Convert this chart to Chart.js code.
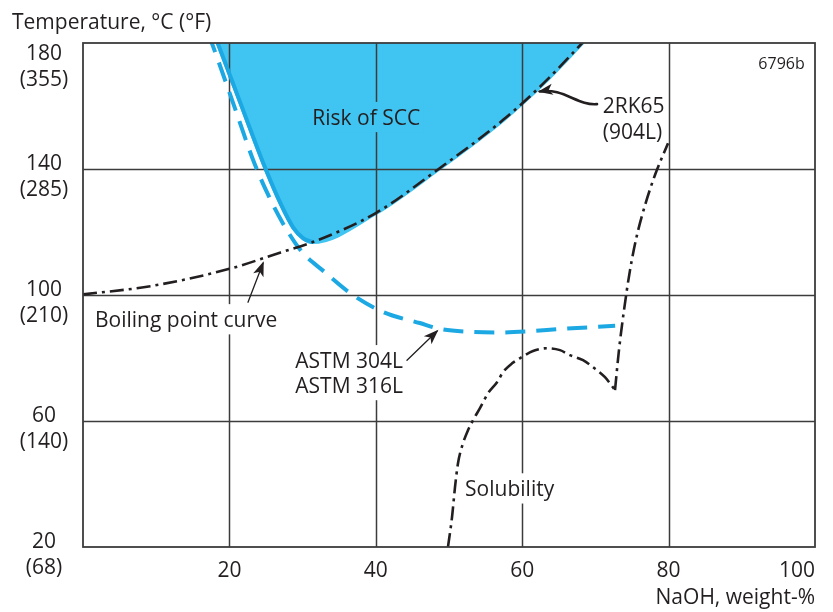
<!DOCTYPE html>
<html><head><meta charset="utf-8">
<script src="https://cdn.jsdelivr.net/npm/chart.js@4/dist/chart.umd.min.js"></script>
<style>html,body{margin:0;padding:0;background:#fff;} #c{display:block;}</style>
</head><body>
<canvas id="c" width="833" height="612"></canvas>
<script>
// ---- tick labels ----
const xTickValues = [20, 40, 60, 80, 100];
const yTickValues = [20, 60, 100, 140, 180];
const yTickLabelsC = ['20', '60', '100', '140', '180'];
const yTickLabelsF = ['(68)', '(140)', '(210)', '(285)', '(355)'];

// ---- series (NaOH wt-%, temperature °C) ----
const boilX = [0, 9.2, 20, 27, 31.4, 40, 48.4, 57.4, 63, 68.2, 70];
const boilY = [100.2, 102.8, 108.3, 113.5, 116.8, 126, 139.7, 155.6, 167.4, 180, 184.5];

const sccEdgeX = [17.9, 18.4, 21.5, 24.9, 27.1, 28.7, 30.1, 31.4];
const sccEdgeY = [183, 180, 161, 140.3, 128.5, 121.5, 118.0, 116.8];

const astmX = [17.1, 17.6, 20.5, 23.4, 25.5, 27.3, 29.0, 30.3, 32.7, 36.5, 41.0, 46.0, 48.8, 52.9, 57.0, 61.1, 65.2, 72.7];
const astmY = [183, 180, 161, 141.9, 130.8, 122.8, 116.5, 112.7, 107.9, 100.6, 94.6, 91.1, 89.2, 88.3, 88.1, 88.5, 89.2, 90.2];

const solArchX = [49.86, 50.41, 50.82, 51.23, 51.91, 52.60, 53.28, 54.23, 55.33, 56.56, 57.38, 58.61, 59.97, 61.48, 63.39, 65.16, 66.53, 68.31, 69.67, 71.31, 72.68];
const solArchY = [20, 29.4, 39.0, 46.6, 52.9, 57.1, 60.2, 64.1, 68.8, 72.3, 75.5, 78.3, 80.3, 82.2, 83.1, 82.5, 80.9, 79.3, 77.1, 73.9, 69.8];

const solRiseX = [72.68, 73.22, 73.91, 74.73, 75.68, 76.78, 78.14, 79.92];
const solRiseY = [69.8, 82.5, 95.2, 107.9, 119.0, 128.5, 138.1, 148.2];

// ---- styles ----
const FILL = '#40C4F1';
const BLUE = '#1CA8E3';
const INK = '#231f20';
const GRID = '#3c3c3c';
const FONT = '"Open Sans", "Noto Sans", sans-serif';

const zip = (xs, ys) => xs.map((x, i) => ({ x, y: ys[i] }));
const sccFill = zip(sccEdgeX, sccEdgeY).concat(
  zip(boilX, boilY).filter(p => p.x > sccEdgeX[sccEdgeX.length - 1]));

const dashDot = [14, 5, 3, 5];
const base = { showLine: true, pointRadius: 0, cubicInterpolationMode: 'monotone', fill: false, clip: 0 };

const datasets = [
  Object.assign({}, base, { label: 'Boiling point curve', data: zip(boilX, boilY), borderColor: INK, borderWidth: 2.6, borderDash: dashDot, order: 1 }),
  Object.assign({}, base, { label: 'Solubility arch', data: zip(solArchX, solArchY), borderColor: INK, borderWidth: 2.6, borderDash: dashDot, order: 1 }),
  Object.assign({}, base, { label: 'Solubility rise', data: zip(solRiseX, solRiseY), borderColor: INK, borderWidth: 2.6, borderDash: dashDot, order: 1 }),
  Object.assign({}, base, { label: 'SCC edge', data: zip(sccEdgeX, sccEdgeY), borderColor: BLUE, borderWidth: 4, order: 2 }),
  Object.assign({}, base, { label: 'ASTM 304L/316L', data: zip(astmX, astmY), borderColor: BLUE, borderWidth: 4, borderDash: [20, 11], order: 3 }),
  Object.assign({}, base, { label: 'Risk of SCC', data: sccFill, borderColor: FILL, borderWidth: 4, backgroundColor: FILL, fill: 'end', order: 10 })
];
const FILL_INDEX = datasets.length - 1;

// annotations (data coordinates)
const notes = [
  { text: 'Risk of SCC', x: 38.7, y: 156.5, align: 'center', bg: FILL },
  { text: '6796b', x: 98.6, y: 173.6, align: 'right', size: 16 },
  { text: '2RK65', x: 71.0, y: 160.3, align: 'left', bg: '#fff' },
  { text: '(904L)', x: 71.0, y: 152.0, align: 'left', bg: '#fff' },
  { text: 'Boiling point curve', x: 1.64, y: 92.3, align: 'left', bg: '#fff' },
  { text: 'ASTM 304L', x: 29.0, y: 79.3, align: 'left', bg: '#fff' },
  { text: 'ASTM 316L', x: 29.0, y: 71.4, align: 'left', bg: '#fff' },
  { text: 'Solubility', x: 52.2, y: 38.6, align: 'left', bg: '#fff' }
];
const arrows = [
  { pts: [[22.54, 97.7], [24.59, 110.1]], w: 1.3 },
  { pts: [[44.26, 79.3], [48.36, 88.5]], w: 1.3 },
  { pts: [[70.22, 160.6], [67.62, 160.0], [65.57, 165.9], [62.4, 164.6]], w: 2.6 }
];

function drawText(ctx, txt, px, py, align, size, bg) {
  ctx.font = size + 'px ' + FONT;
  const w = ctx.measureText(txt).width;
  const left = align === 'left' ? px : (align === 'right' ? px - w : px - w / 2);
  if (bg) { ctx.fillStyle = bg; ctx.fillRect(left - 3, py - size * 0.72, w + 6, size * 1.44); }
  ctx.fillStyle = INK;
  ctx.textAlign = 'left';
  ctx.textBaseline = 'alphabetic';
  ctx.fillText(txt, left, py + size * 0.357);
}

const deco = {
  id: 'deco',
  afterDatasetDraw(chart, args) {
    if (args.index !== FILL_INDEX) return;
    const { ctx, chartArea: a, scales: { x, y } } = chart;
    ctx.save();
    ctx.strokeStyle = GRID; ctx.lineWidth = 1.5;
    xTickValues.forEach(v => {
      if (v <= x.min || v >= x.max) return;
      const px = Math.round(x.getPixelForValue(v)) + 0.5;
      ctx.beginPath(); ctx.moveTo(px, a.top); ctx.lineTo(px, a.bottom); ctx.stroke();
    });
    yTickValues.forEach(v => {
      if (v <= y.min || v >= y.max) return;
      const py = Math.round(y.getPixelForValue(v)) + 0.5;
      ctx.beginPath(); ctx.moveTo(a.left, py); ctx.lineTo(a.right, py); ctx.stroke();
    });
    notes.forEach(n => drawText(ctx, n.text, x.getPixelForValue(n.x), y.getPixelForValue(n.y), n.align, n.size || 21, n.bg));
    ctx.restore();
  },
  afterDatasetsDraw(chart) {
    const { ctx, chartArea: a, scales: { x, y } } = chart;
    ctx.save();
    // frame
    ctx.strokeStyle = GRID; ctx.lineWidth = 1.8;
    ctx.strokeRect(a.left, a.top, a.right - a.left, a.bottom - a.top);
    // arrows
    arrows.forEach(ar => {
      const p = ar.pts.map(q => [x.getPixelForValue(q[0]), y.getPixelForValue(q[1])]);
      ctx.strokeStyle = INK; ctx.fillStyle = INK; ctx.lineWidth = ar.w; ctx.lineCap = 'round';
      ctx.beginPath(); ctx.moveTo(p[0][0], p[0][1]);
      let from;
      if (p.length === 4) { ctx.bezierCurveTo(p[1][0], p[1][1], p[2][0], p[2][1], p[3][0], p[3][1]); from = p[2]; }
      else { ctx.lineTo(p[1][0], p[1][1]); from = p[0]; }
      const tip = p[p.length - 1];
      const ang = Math.atan2(tip[1] - from[1], tip[0] - from[0]);
      const L = 13, H = 5.5;
      ctx.stroke();
      ctx.beginPath();
      ctx.moveTo(tip[0] + 2 * Math.cos(ang), tip[1] + 2 * Math.sin(ang));
      ctx.lineTo(tip[0] - L * Math.cos(ang) + H * Math.sin(ang), tip[1] - L * Math.sin(ang) - H * Math.cos(ang));
      ctx.lineTo(tip[0] - L * 0.7 * Math.cos(ang), tip[1] - L * 0.7 * Math.sin(ang));
      ctx.lineTo(tip[0] - L * Math.cos(ang) - H * Math.sin(ang), tip[1] - L * Math.sin(ang) + H * Math.cos(ang));
      ctx.closePath(); ctx.fill();
    });
    // tick labels
    xTickValues.forEach(v => {
      const px = x.getPixelForValue(v);
      drawText(ctx, String(v), v >= x.max ? a.right : px, a.bottom + 23, v >= x.max ? 'right' : 'center', 21, null);
    });
    yTickValues.forEach((v, i) => {
      const py = y.getPixelForValue(v);
      const off = v >= y.max ? 16 : 0;
      drawText(ctx, yTickLabelsC[i], 44, py - 6 + off, 'center', 21, null);
      drawText(ctx, yTickLabelsF[i], 44, py + 20 + off, 'center', 21, null);
    });
    // axis titles
    drawText(ctx, 'Temperature, °C (°F)', 12, 22, 'left', 21, null);
    drawText(ctx, 'NaOH, weight-%', a.right, 597, 'right', 21, null);
    ctx.restore();
  }
};

new Chart(document.getElementById('c').getContext('2d'), {
  type: 'scatter',
  data: { datasets },
  options: {
    responsive: false, animation: false, devicePixelRatio: 1,
    layout: { padding: { left: 83, right: 18, top: 43, bottom: 65 } },
    plugins: { legend: { display: false }, tooltip: { enabled: false } },
    scales: {
      x: { type: 'linear', min: 0, max: 100, display: false },
      y: { type: 'linear', min: 20, max: 180, display: false }
    },
    elements: { point: { radius: 0 } }
  },
  plugins: [deco]
});
</script>
</body></html>
